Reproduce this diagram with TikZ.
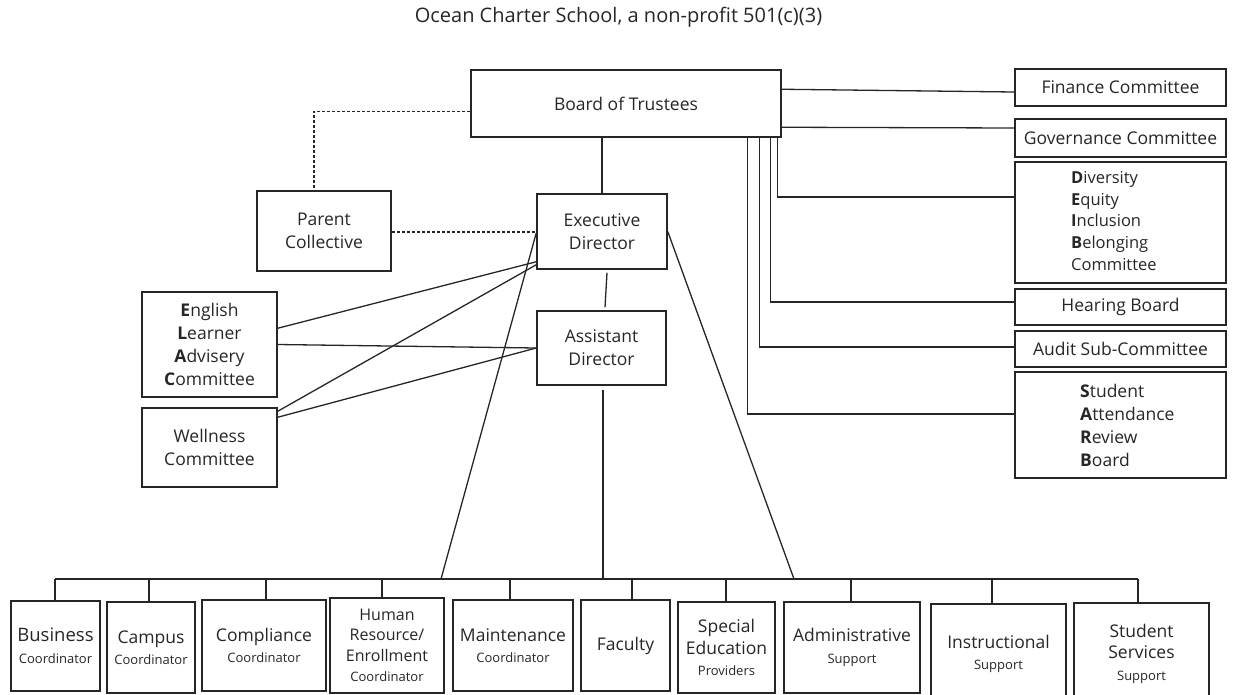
\documentclass[tikz,border=0pt]{standalone}
\usepackage{fontspec}
\setmainfont{Open Sans}
\usetikzlibrary{calc}
\newcommand\mainsz{\fontsize{17.5}{23}\selectfont}
\newcommand\titlesz{\fontsize{20}{24}\selectfont}
\newcommand\lowsz{\fontsize{17.5}{21.5}\selectfont}
\newcommand\deibsz{\fontsize{16.5}{21.75}\selectfont}
\newcommand\smsz{\fontsize{13}{16}\selectfont}
\definecolor{ink}{HTML}{262626}
\tikzset{
  box/.style={draw=ink, line width=1.5pt, inner sep=0pt, align=center, font=\mainsz, text=ink},
  lowbox/.style={box, font=\lowsz},
  conn/.style={draw=ink, line width=1.3pt},
  dotconn/.style={conn, dash pattern=on 3pt off 2pt},
  txt/.style={inner sep=0pt, font=\mainsz, text=ink, align=left},
}
\begin{document}
\begin{tikzpicture}[x=1pt,y=-1pt]
\useasboundingbox (0,0) rectangle (1235,694);
\node[txt, font=\titlesz] (title) at (618.5,17) {Ocean Charter School, a non-profit 501(c)(3)};

% top
\node[box, minimum width=310, minimum height=67] (board) at (626,103.5) {Board of Trustees};
\node[box, minimum width=211, minimum height=37] (fin) at (1120.5,87.5) {Finance Committee};
\node[box, minimum width=211, minimum height=38] (gov) at (1120.5,138) {Governance Committee};
\node[box, minimum width=211, minimum height=121] (deib) at (1120.5,222.5) {};
\node[txt, font=\deibsz, anchor=west] (deibt) at (1071,221) {\textbf{D}iversity\\\textbf{E}quity\\\textbf{I}nclusion\\\textbf{B}elonging\\Committee};
\node[box, minimum width=211, minimum height=36] (hear) at (1120.5,307) {Hearing Board};
\node[box, minimum width=211, minimum height=36] (audit) at (1120.5,349) {Audit Sub-Committee};
\node[box, minimum width=211, minimum height=106] (sarb) at (1120.5,425) {};
\node[txt, anchor=west] (sarbt) at (1080,425.7) {\textbf{S}tudent\\\textbf{A}ttendance\\\textbf{R}eview\\\textbf{B}oard};

% middle
\node[box, minimum width=134, minimum height=80] (parent) at (324,231) {Parent\\Collective};
\node[box, minimum width=130, minimum height=75] (ed) at (602,231.5) {Executive\\Director};
\node[box, minimum width=129, minimum height=74] (ad) at (601.5,348) {Assistant\\Director};
\node[box, minimum width=135, minimum height=105] (elac) at (209.5,344.5) {\textbf{E}nglish\\\textbf{L}earner\\\textbf{A}dvisery\\\textbf{C}ommittee};
\node[box, minimum width=135, minimum height=79] (well) at (209.5,447.5) {Wellness\\Committee};

% bottom row
\node[lowbox, font=\fontsize{18.5}{21.5}\selectfont, minimum width=89, minimum height=90] (busi) at (55.5,646) {Business\\{\smsz Coordinator}};
\node[lowbox, minimum width=88, minimum height=91] (camp) at (151,647.5) {Campus\\{\smsz Coordinator}};
\node[lowbox, minimum width=124, minimum height=91] (comp) at (264,645.5) {Compliance\\{\smsz Coordinator}};
\node[lowbox, font=\fontsize{16}{20.5}\selectfont, minimum width=114, minimum height=95] (hr) at (387,645.5) {Human\\Resource/\\Enrollment\\{\smsz Coordinator}};
\node[lowbox, minimum width=120, minimum height=91] (maint) at (513,645.5) {Maintenance\\{\smsz Coordinator}};
\node[lowbox, minimum width=89, minimum height=91] (fac) at (625.5,645.5) {Faculty};
\node[lowbox, minimum width=97, minimum height=91] (sped) at (726.5,647.5) {Special\\Education\\{\smsz Providers}};
\node[lowbox, minimum width=136, minimum height=91] (admin) at (852,647.5) {Administrative\\{\smsz Support}};
\node[lowbox, minimum width=135, minimum height=100] (instr) at (998.5,654) {Instructional\\{\smsz Support}};
\node[lowbox, minimum width=135, minimum height=101] (ss) at (1141.5,653.5) {Student\\Services\\{\smsz Support}};

% bus
\coordinate (busL) at (0,579);
\foreach \n/\dx in {busi/-0.5, camp/-2, comp/2, hr/-5, maint/-3, fac/6.5, sped/-0.5, admin/-1, instr/-6.5, ss/-3.5}{
  \path ([xshift=\dx pt]\n.north) coordinate (d\n);
  \draw[conn] (d\n) -- (d\n |- busL);
}
\draw[conn] (dbusi |- busL) -- (dss |- busL);

% board connectors
\draw[conn] (ed.north) -- (ed.north |- board.south);
\draw[conn] ([yshift=-20pt]board.north east) -- ([yshift=-4.5pt]fin.west);
\draw[conn] ([yshift=-58pt]board.north east) -- ([yshift=10pt]gov.west);
\draw[conn] ([xshift=-4pt]board.south east) |- ([yshift=25.5pt]deib.west);
\draw[conn] ([xshift=-11pt]board.south east) |- ([yshift=5pt]hear.west);
\draw[conn] ([xshift=-22pt]board.south east) |- ([yshift=2pt]audit.west);
\draw[conn] ([xshift=-34pt]board.south east) |- ([yshift=11pt]sarb.west);

% dashed
\draw[dotconn] ([yshift=-42pt]board.north west) -| ([xshift=-10pt]parent.north);
\draw[dotconn] ([yshift=-1pt]parent.east) -- ([yshift=-0.5pt]ed.west);

% director links
\draw[conn] ([shift={(5pt,-3pt)}]ed.south) -- ([shift={(3.5pt,3pt)}]ad.north);
\path ([shift={(1.5pt,-4pt)}]ad.south) coordinate (ads);
\draw[conn] (ads) -- (ads |- busL);
\coordinate (edbusA) at (441,579);
\coordinate (edbusB) at (794,579);
\draw[conn] ([yshift=-1.5pt]ed.west) -- (edbusA);
\draw[conn] (ed.east) -- (edbusB);

% side committees
\draw[conn] ([yshift=-37pt]elac.north east) -- ([yshift=8pt]ed.south west);
\draw[conn] ([yshift=-4pt]well.north east) -- ([yshift=5pt]ed.south west);
\draw[conn] (elac.east) -- (ad.west);
\draw[conn] ([yshift=-10pt]well.north east) -- (ad.west);
\end{tikzpicture}
\end{document}
